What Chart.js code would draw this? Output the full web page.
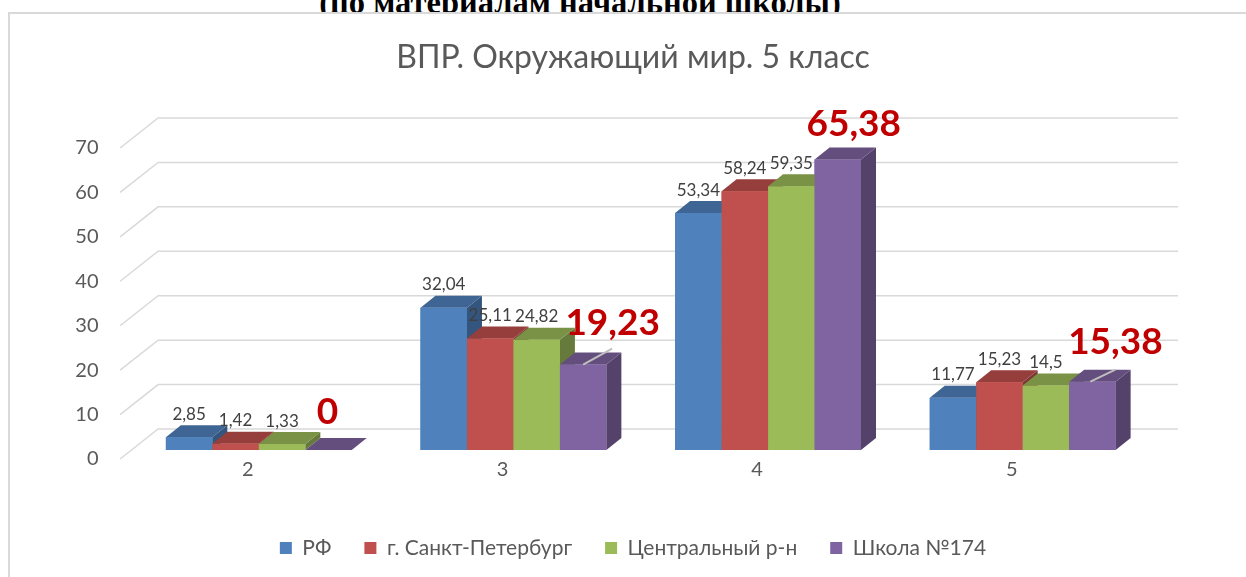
<!DOCTYPE html>
<html><head><meta charset="utf-8">
<script src="https://cdn.jsdelivr.net/npm/chart.js@4.4.0/dist/chart.umd.min.js"></script>
<style>
html,body{margin:0;padding:0;width:1246px;height:577px;overflow:hidden;background:#fff;}
#hdr{position:absolute;left:0;width:1160px;text-align:center;top:-14px;font:bold 32.5px/32px "Liberation Serif",serif;color:#000;white-space:nowrap;}
#frame{position:absolute;left:8px;top:12px;width:1300px;height:700px;border-top:2px solid #d9d9d9;border-left:2px solid #d9d9d9;background:#fff;}
#wrap{position:absolute;left:10px;top:15px;width:1246px;height:562px;}
</style></head>
<body>
<div id="hdr">(по материалам начальной школы)</div>
<div id="frame"></div>
<div id="wrap"><canvas id="c"></canvas></div>
<script>
const categories = ['2', '3', '4', '5'];
const seriesNames = ['РФ', 'г. Санкт-Петербург', 'Центральный р-н', 'Школа №174'];
const rfValues = [2.85, 32.04, 53.34, 11.77];
const spbValues = [1.42, 25.11, 58.24, 15.23];
const centralValues = [1.33, 24.82, 59.35, 14.5];
const schoolValues = [0, 19.23, 65.38, 15.38];
const yTickMin = 0, yTickMax = 70, yTickStep = 10;
const chartTitle = 'ВПР. Окружающий мир. 5 класс';

const seriesColors = ['#4F81BD', '#C0504D', '#9BBB59', '#8064A2'];
// bar depth (px) and wall depth offsets relative to bar-front plane
const DX = 15, DY = 12;
const G_FX = -11.4, G_FY = 9, G_BX = 26.6, G_BY = -21;
// manual positions of the highlighted (school) labels: [dx, dy, leader?]
const schoolLabelStyle = [[-1, -38, null], [29.5, -42, [0, 0, 29, -16]], [16, -35, null], [23, -40, [-2, 0, 23, -12]]];

function shade(hex, f) {
  const n = parseInt(hex.slice(1), 16);
  const r = Math.round(((n >> 16) & 255) * f), g = Math.round(((n >> 8) & 255) * f), b = Math.round((n & 255) * f);
  return 'rgb(' + r + ',' + g + ',' + b + ')';
}
const fmt = v => String(v).replace('.', ',');

const threeD = {
  id: 'threeD',
  beforeDatasetsDraw(chart) {
    const {ctx, chartArea: a, scales: {y}} = chart;
    ctx.save();
    ctx.strokeStyle = '#D9D9D9';
    ctx.lineWidth = 1.5;
    y.ticks.forEach(t => {
      const py = y.getPixelForValue(t.value);
      ctx.beginPath();
      ctx.moveTo(a.left + G_FX, py + G_FY);
      ctx.lineTo(a.left + G_BX, py + G_BY);
      ctx.lineTo(a.right + 28, py + G_BY);
      ctx.stroke();
    });
    ctx.restore();
  },
  afterDatasetsDraw(chart) {
    const ctx = chart.ctx;
    const metas = chart.data.datasets.map((d, i) => chart.getDatasetMeta(i));
    ctx.save();
    for (let c = 0; c < categories.length; c++) {
      metas.forEach((meta, i) => {
        const bar = meta.data[c];
        const col = seriesColors[i];
        const {x, y, base, width} = bar.getProps(['x', 'y', 'base', 'width'], true);
        const l = x - width / 2, r = x + width / 2;
        ctx.fillStyle = shade(col, 0.66);
        ctx.beginPath();
        ctx.moveTo(r, y); ctx.lineTo(r + DX, y - DY); ctx.lineTo(r + DX, base - DY); ctx.lineTo(r, base);
        ctx.closePath(); ctx.fill();
        ctx.fillStyle = shade(col, 0.78);
        ctx.beginPath();
        ctx.moveTo(l, y); ctx.lineTo(l + DX, y - DY); ctx.lineTo(r + DX, y - DY); ctx.lineTo(r, y);
        ctx.closePath(); ctx.fill();
        bar.draw(ctx, chart.chartArea);
      });
    }
    // data labels
    ctx.textAlign = 'center';
    ctx.textBaseline = 'middle';
    metas.forEach((meta, i) => {
      const values = chart.data.datasets[i].data;
      meta.data.forEach((bar, c) => {
        const {x, y} = bar.getProps(['x', 'y'], true);
        if (i === 3) {
          const s = schoolLabelStyle[c];
          if (s[2]) {
            ctx.strokeStyle = '#BFBFBF'; ctx.lineWidth = 2;
            ctx.beginPath();
            ctx.moveTo(x + s[2][0], y + s[2][1]); ctx.lineTo(x + s[2][2], y + s[2][3]);
            ctx.stroke();
          }
          ctx.fillStyle = '#C00000';
          ctx.font = 'bold 37px Lato';
          ctx.fillText(fmt(values[c]), x + s[0], y + s[1]);
        } else {
          ctx.fillStyle = '#404040';
          ctx.font = '17px Lato';
          ctx.fillText(fmt(values[c]), x, y - 23);
        }
      });
    });
    ctx.restore();
  }
};

const allValues = [rfValues, spbValues, centralValues, schoolValues];
new Chart(document.getElementById('c'), {
  type: 'bar',
  data: {
    labels: categories,
    datasets: allValues.map((vals, i) => ({
      label: seriesNames[i],
      data: vals,
      backgroundColor: seriesColors[i],
      borderWidth: 0,
      categoryPercentage: 0.73,
      barPercentage: 1.0
    }))
  },
  options: {
    responsive: true,
    maintainAspectRatio: false,
    animation: false,
    layout: {padding: {top: 0, left: 0, right: 0, bottom: 8.5}},
    scales: {
      x: {
        grid: {display: false, drawTicks: false},
        border: {display: false},
        ticks: {padding: 8, labelOffset: -11, color: '#595959', font: {family: 'Lato', size: 20}},
        afterFit(s) { s.height = 54.5; }
      },
      y: {
        min: yTickMin, max: yTickMax,
        grid: {display: false, drawTicks: false},
        border: {display: false},
        ticks: {stepSize: yTickStep, padding: 33, labelOffset: 9, color: '#595959', font: {family: 'Lato', size: 20}},
        afterFit(s) { s.width = 121.5; }
      },
      yR: {
        position: 'right', display: true,
        grid: {display: false, drawTicks: false},
        border: {display: false},
        ticks: {display: false},
        afterFit(s) { s.width = 106; }
      }
    },
    plugins: {
      title: {
        display: true, text: chartTitle, color: '#595959',
        font: {family: 'Lato', size: 32, weight: 'normal'},
        padding: {top: 23.8, bottom: 61.8}
      },
      legend: {
        position: 'bottom',
        labels: {
          usePointStyle: true, pointStyle: 'rect', boxWidth: 12, boxHeight: 12,
          color: '#595959', font: {family: 'Lato', size: 21}, padding: 33
        }
      },
      tooltip: {enabled: false}
    }
  },
  plugins: [threeD]
});
</script>
</body></html>
